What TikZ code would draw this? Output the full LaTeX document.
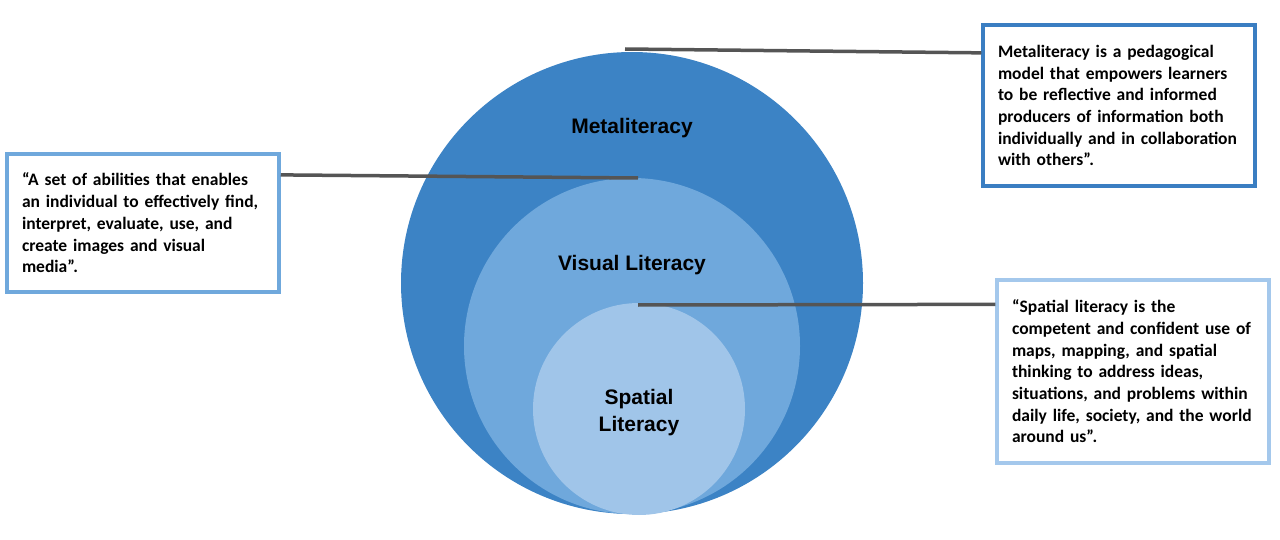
\documentclass[tikz,border=0pt]{standalone}
\usepackage{fontspec}
\setmainfont{Carlito}
\newfontfamily\circfont{Liberation Sans}
\usetikzlibrary{calc}
\definecolor{cOuter}{HTML}{3C83C5}
\definecolor{cMid}{HTML}{6FA8DC}
\definecolor{cInner}{HTML}{A0C5E9}
\definecolor{bTop}{HTML}{3A7EC2}
\definecolor{bLeft}{HTML}{6FA8DC}
\definecolor{bBot}{HTML}{A4C8EC}
\definecolor{lineGrey}{HTML}{555555}
\tikzset{
  ring/.style={circle, inner sep=0pt, draw=none},
  circlabel/.style={font=\circfont\bfseries\fontsize{21}{27}\selectfont, align=center, text=black},
  infobox/.style={rectangle, draw=#1, line width=3.5pt, fill=white, inner xsep=15pt, inner ysep=0pt,
    align=left, font=\bfseries\fontsize{17.5}{21.7}\selectfont, text=black},
  conn/.style={draw=lineGrey, line width=3.5pt}
}
\begin{document}
\begin{tikzpicture}[x=1pt,y=-1pt]
\useasboundingbox (0,0) rectangle (1280,540);
% circles
\node[ring, fill=cOuter, minimum size=462pt] (outer) at (632,283) {};
\node[ring, fill=cMid, minimum size=336pt] (mid) at (632,346) {};
\node[ring, fill=cInner, minimum size=212pt] (inner) at (639,409) {};
% labels
\node[circlabel] (lMeta) at (632,128) {Metaliteracy};
\node[circlabel] (lVis) at (632,265) {Visual Literacy};
\node[circlabel] (lSpa) at (639,413) {Spatial\\Literacy};
% connector end points on the circles
\coordinate (mTop) at (625,49);
\coordinate (vTop) at (638,178);
\coordinate (sTop) at (638,305);
% boxes
\node[infobox=bTop, text width=242pt, minimum width=272pt, minimum height=161pt] (metaBox) at (1119,105.5)
 {Metaliteracy is a pedagogical\\model that empowers learners\\to be reflective and informed\\producers of information both\\individually and in collaboration\\with others''.};
\node[infobox=bLeft, text width=242pt, minimum width=272pt, minimum height=138pt] (visBox) at (143,223)
 {``A set of abilities that enables\\an individual to effectively find,\\interpret, evaluate, use, and\\create images and visual\\media''.};
\node[infobox=bBot, text width=242pt, minimum width=270pt, minimum height=183pt] (spaBox) at (1133,371.5)
 {``Spatial literacy is the\\competent and confident use of\\maps, mapping, and spatial\\thinking to address ideas,\\situations, and problems within\\daily life, society, and the world\\around us''.};
% connectors
\draw[conn] (mTop) -- ($(metaBox.north west)!0.18!(metaBox.south west)$);
\draw[conn] ($(visBox.north east)!0.16!(visBox.south east)$) -- (vTop);
\draw[conn] (sTop) -- ($(spaBox.north west)!0.14!(spaBox.south west)$);
\end{tikzpicture}
\end{document}
